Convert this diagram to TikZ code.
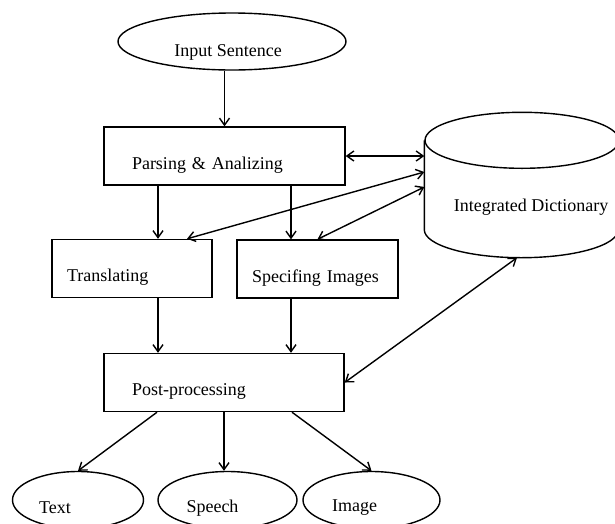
\documentclass[tikz,border=0pt]{standalone}
\usepackage{fontspec}
\setmainfont{Liberation Serif}
\usetikzlibrary{shapes.geometric,arrows.meta}

\begin{document}
\begin{tikzpicture}[x=1pt, y=-1pt, line width=1.4pt,
    font=\fontsize{18}{21}\selectfont,
    >={Straight Barb[length=7pt, width=10pt]},
    stage/.style={draw, rectangle, minimum height=58pt, inner ysep=0pt,
        text height=30pt, text depth=4pt, align=left},
    io/.style={draw, ellipse, minimum height=57pt, inner sep=0pt},
    flow/.style={->},
    link/.style={<->}]
    \useasboundingbox (0,0) rectangle (615,523);

    % Input
    \node[io, minimum width=228pt,
        label={[xshift=-4pt, yshift=-11pt]center:Input Sentence}] (input) at (232,41.5) {};

    % Processing stages
    \node[stage, inner xsep=28pt, text width=185pt] (parse) at (224.5,156) {Parsing \& Analizing};
    \node[stage, inner xsep=15pt, text width=130pt] (trans) at (132,268.5) {Translating};
    \node[stage, inner xsep=15pt, text width=131pt] (spec) at (317.5,269) {Specifing Images};
    \node[stage, inner xsep=28pt, text width=184pt] (post) at (224,382.5) {Post-processing};

    % Dictionary (cylinder body, ends drawn below)
    \node[minimum width=194pt, minimum height=88pt, inner sep=0pt,
        label={[xshift=9pt, yshift=-22pt]center:Integrated Dictionary}] (dict) at (522,185) {};
    \draw (dict.north) ellipse [x radius=97pt, y radius=28pt];
    \draw (dict.north west) -- (dict.south west)
        arc[start angle=180, end angle=360, x radius=97pt, y radius=28pt] -- (dict.north east);

    % Outputs
    \node[io, minimum width=131pt, label={[xshift=-23pt, yshift=-8pt]center:Text}] (textout) at (78,500) {};
    \node[io, minimum width=139pt, label={[xshift=-15pt, yshift=-8pt]center:Speech}] (speechout) at (227.5,500) {};
    \node[io, minimum width=137pt, label={[xshift=-17pt, yshift=-8pt]center:Image}] (imageout) at (371.5,500) {};

    % Main flow
    \draw[flow] (parse.north |- input.south) -- (parse.north);
    \draw[flow] ([xshift=-66.5pt]parse.south) -- ([xshift=26pt]trans.north);
    \draw[flow] ([xshift=66.5pt]parse.south) -- ([xshift=-26.5pt]spec.north);
    \draw[flow] ([xshift=26pt]trans.south) -- ([xshift=-66pt]post.north);
    \draw[flow] ([xshift=-26.5pt]spec.south) -- ([xshift=67pt]post.north);
    \draw[flow] ([xshift=-67pt]post.south) -- (textout.north);
    \draw[flow] (post.south) -- (post.south |- speechout.north);
    \draw[flow] ([xshift=68pt]post.south) -- (imageout.north);

    % Dictionary look-ups
    \draw[link] (parse.east) -- (parse.east -| dict.west);
    \draw[link] ([xshift=55pt]trans.north) -- ([yshift=13pt]dict.west);
    \draw[link] (spec.north) -- ([yshift=-2pt]dict.west);
    \draw[link] (post.east) -- ([xshift=-5pt, yshift=-28pt]dict.south);
\end{tikzpicture}
\end{document}
